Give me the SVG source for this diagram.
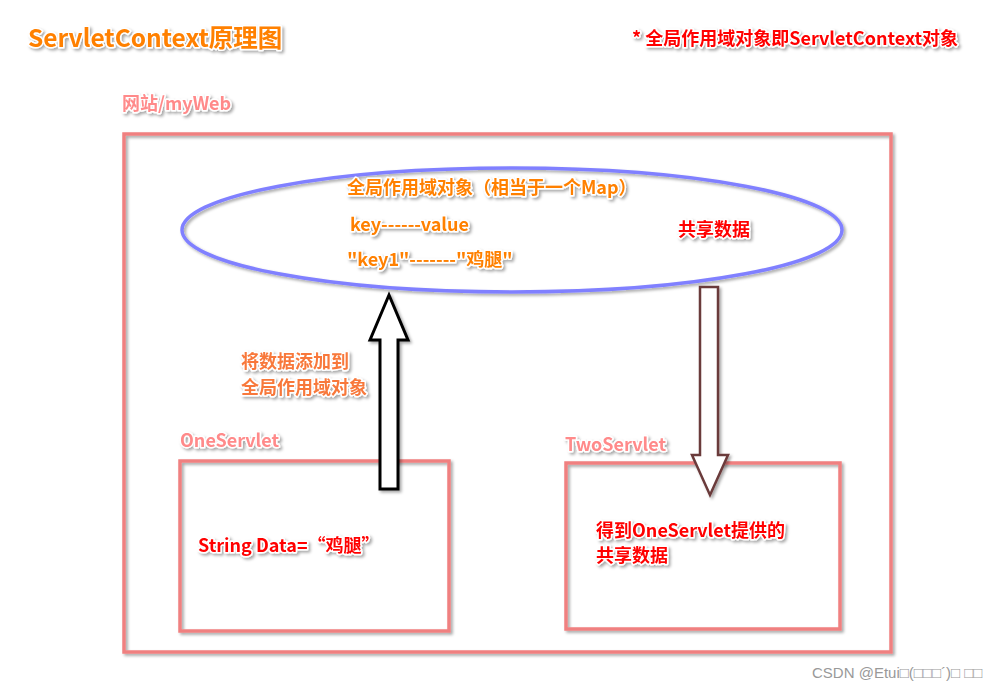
<svg xmlns="http://www.w3.org/2000/svg" width="1007" height="692" viewBox="0 0 1007 692">
<defs>
<filter id="sh" x="-10%" y="-10%" width="130%" height="130%"><feDropShadow dx="2" dy="2" stdDeviation="1.5" flood-color="#000" flood-opacity="0.35"/></filter>
</defs>
<style>
text{font-family:"Noto Sans CJK SC","Liberation Sans",sans-serif;font-weight:bold;paint-order:stroke;stroke:#fff;stroke-width:3px;stroke-linejoin:round;filter:url(#sh)}
.box{fill:none;stroke:#f08080;stroke-width:3.5;filter:url(#sh)}
.or{fill:#ff8000}
.co{fill:#f8783a}
.rd{fill:#ff0000}
.pk{fill:#ff8a8a}
</style>
<rect width="1007" height="692" fill="#fff"/>
<text x="28" y="47" font-size="24.5" class="or">ServletContext原理图</text>
<text x="632" y="45" font-size="18" class="rd">* 全局作用域对象即ServletContext对象</text>
<g id="web"><text x="122" y="110" font-size="18" class="pk">网站/myWeb</text>
<rect class="box" x="124" y="134" width="767" height="518"/></g>
<g id="scope">
<ellipse cx="512" cy="230" rx="330" ry="62" fill="none" stroke="#8080ff" stroke-width="3.5" filter="url(#sh)"/>
<text x="347" y="194" font-size="18" class="or">全局作用域对象（相当于一个Map）</text>
<text x="350" y="231" font-size="18" class="or">key------value</text>
<text x="347" y="266" font-size="18" class="or">"key1"-------"鸡腿"</text>
<text x="678" y="236" font-size="18" class="rd">共享数据</text>
</g>
<g id="one">
<text x="180" y="447" font-size="18" class="pk">OneServlet</text>
<rect class="box" x="180" y="461" width="269" height="170"/>
<text x="198" y="552" font-size="18" class="rd">String Data=“鸡腿”</text>
</g>
<g id="two">
<text x="565" y="451" font-size="18" class="pk">TwoServlet</text>
<rect class="box" x="566" y="463" width="274" height="166"/>
<text x="596" y="537" font-size="18" class="rd">得到OneServlet提供的</text>
<text x="596" y="562" font-size="18" class="rd">共享数据</text>
</g>
<g id="connectors">
<path d="M389,295 L408,340 L398,340 L398,489 L380,489 L380,340 L370,340 Z" fill="#fff" stroke="#000" stroke-width="3" filter="url(#sh)"/>
<text x="241" y="368" font-size="18" class="co">将数据添加到</text>
<text x="241" y="394" font-size="18" class="co">全局作用域对象</text>
<path d="M700,287 L718,287 L718,455 L728,455 L710,495 L692,455 L700,455 Z" fill="#fff" stroke="#6b3a3a" stroke-width="2.5" filter="url(#sh)"/>
</g>
<text x="812" y="678" font-size="15" fill="#999" style="font-weight:normal;stroke:none;filter:none;font-family:'Liberation Sans',sans-serif">CSDN @Etui□(□□□´)□ □□</text>
</svg>
